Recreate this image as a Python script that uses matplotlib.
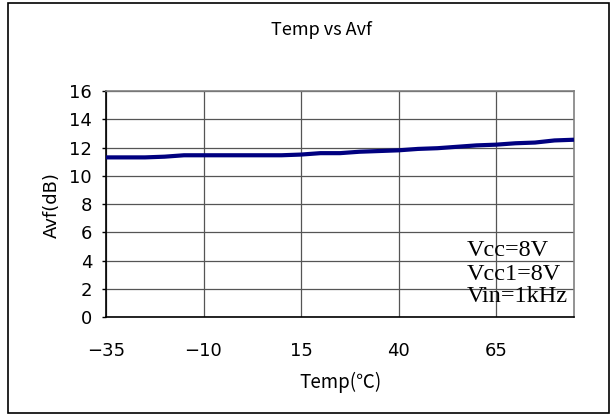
import matplotlib
matplotlib.use("Agg")
import matplotlib.pyplot as plt
from matplotlib.patches import Rectangle

temps = [-35, -30, -25, -20, -15, -10, -5, 0, 5, 10, 15, 20, 25, 30, 35, 40, 45, 50, 55, 60, 65, 70, 75, 80, 85]
avf = [11.3, 11.3, 11.3, 11.35, 11.45, 11.45, 11.45, 11.45, 11.45, 11.45, 11.5, 11.6, 11.6, 11.7, 11.75,
       11.8, 11.9, 11.95, 12.05, 12.15, 12.2, 12.3, 12.35, 12.5, 12.55]
xticks = [-35, -10, 15, 40, 65]
xtick_labels = ["\u221235", "\u221210", "15", "40", "65"]
yticks = [0, 2, 4, 6, 8, 10, 12, 14, 16]
notes = ["Vcc=8V", "Vcc1=8V", "Vin=1kHz"]

fig = plt.figure(figsize=(6.15, 4.19), dpi=100)
W, H = 615, 419
ax = fig.add_axes([106 / W, 1 - 317 / H, (574 - 106) / W, (317 - 91) / H])

ax.plot(temps, avf, color="#000080", lw=3, solid_capstyle="butt", clip_on=False, zorder=3)
ax.set_xlim(-35, 85)
ax.set_ylim(0, 16)
ax.set_xticks(xticks)
ax.set_xticklabels(xtick_labels)
ax.set_yticks(yticks)
ax.grid(True, color="#555555", lw=0.9)
ax.tick_params(axis="x", length=0, pad=18, labelsize=13)
ax.tick_params(axis="y", length=3, width=1, direction="out", pad=7, labelsize=13)
for lab in ax.get_xticklabels() + ax.get_yticklabels():
    lab.set_family("DejaVu Sans")
for s in ["top", "right"]:
    ax.spines[s].set_color("#808080")
    ax.spines[s].set_linewidth(1.2)
for s in ["left", "bottom"]:
    ax.spines[s].set_color("black")
    ax.spines[s].set_linewidth(1.2)

cjk = ["Noto Sans CJK KR", "DejaVu Sans"]
fig.text(321 / W, 1 - 30 / H, "Temp vs Avf", ha="center", va="center", fontsize=13, family=cjk)
fig.text(340 / W, 1 - 382 / H, "Temp(\u2103)", ha="center", va="center", fontsize=13.5, family=cjk)
fig.text(52 / W, 1 - 205 / H, "Avf(dB)", ha="center", va="center", rotation=90, fontsize=13,
         family="DejaVu Sans")

ys = [251, 274, 297]
for t, y in zip(notes, ys):
    ax.text(467 / W, 1 - y / H, t, transform=fig.transFigure, ha="left", va="center",
            fontsize=17.5, family=["Liberation Serif", "DejaVu Serif"], zorder=4)

fig.patches.append(Rectangle((8 / W, 1 - 413 / H), (609 - 8) / W, (413 - 3) / H,
                             transform=fig.transFigure, fill=False, edgecolor="black", lw=1.2))

fig.savefig("out.png", dpi=100)
